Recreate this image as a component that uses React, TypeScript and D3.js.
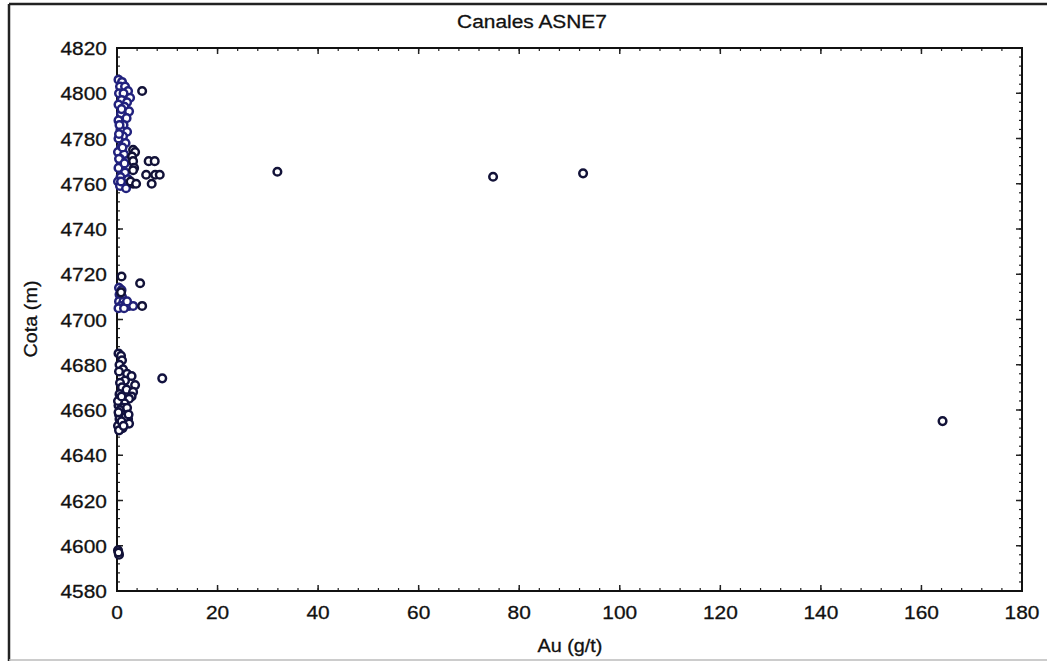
import React from "react";
import * as d3 from "d3";

const title = "Canales ASNE7";
const xLabel = "Au (g/t)";
const yLabel = "Cota (m)";
const xTicks = [0, 20, 40, 60, 80, 100, 120, 140, 160, 180];
const yTicks = [4580, 4600, 4620, 4640, 4660, 4680, 4700, 4720, 4740, 4760, 4780, 4800, 4820];

// dense upper cluster near the axis (Au, Cota)
const topDenseAu = [0.3, 1.0, 0.6, 1.6, 2.2, 0.4, 1.3, 2.6, 0.9, 2.0, 0.3, 1.5, 2.4, 0.8, 1.9, 0.3, 1.3, 0.7, 2.0, 1.2, 0.3, 1.7, 0.8, 0.2, 1.4, 0.6, 2.0, 1.0, 0.3, 1.6, 0.7, 2.2, 0.2, 1.2, 0.6, 1.8, 0.4, 1.1, 0.5, 0.9, 0.4, 1.5, 0.8];
const topDenseCota = [4806, 4805, 4803, 4803, 4801, 4800, 4800, 4798, 4797, 4796, 4795, 4794, 4792, 4791, 4789, 4788, 4786, 4784, 4783, 4781, 4780, 4778, 4776, 4774, 4773, 4771, 4770, 4768, 4767, 4765, 4763, 4762, 4761, 4760, 4759, 4758, 4771, 4776, 4786, 4793, 4782, 4769, 4761];

const topAu = [3.2, 3.6, 3.0, 3.2, 3.4, 6.3, 7.5, 3.2, 5.8, 7.6, 8.5, 6.9, 3.2, 2.7, 3.8, 5.0];
const topCota = [4775, 4774, 4772, 4770, 4767, 4770, 4770, 4766, 4764, 4764, 4764, 4760, 4760, 4761, 4760, 4801];

const midDenseAu = [0.4, 0.9, 0.5, 1.0, 0.4, 1.3, 0.8, 1.8, 2.4, 3.2, 0.3, 1.4, 2.0];
const midDenseCota = [4714, 4713, 4711, 4710, 4708, 4708, 4706, 4707, 4706, 4706, 4705, 4705, 4708];

const midAu = [0.9, 4.6, 5.0, 0.8];
const midCota = [4719, 4716, 4706, 4712];

const lowAu = [0.3, 0.8, 1.0, 0.5, 1.2, 0.4, 2.0, 2.9, 1.6, 0.6, 3.6, 1.0, 1.9, 3.2, 0.5, 2.9, 2.4, 0.8, 1.5, 0.3, 1.2, 0.6, 1.8, 0.4, 1.0, 2.2, 0.7, 1.6, 2.4, 0.2, 1.1, 0.5, 1.4, 0.2, 0.9, 2.0, 0.3, 1.7, 0.9, 2.3, 0.4, 1.3, 9.0];
const lowCota = [4685, 4684, 4682, 4680, 4678, 4677, 4676, 4675, 4673, 4672, 4671, 4670, 4669, 4668, 4667, 4666, 4665, 4664, 4663, 4662, 4661, 4660, 4659, 4658, 4657, 4656, 4655, 4654, 4654, 4653, 4652, 4656, 4658, 4664, 4666, 4661, 4659, 4657, 4655, 4658, 4651, 4653, 4674];

const bottomAu = [0.2, 0.4, 0.3];
const bottomCota = [4598, 4596, 4597];

const outlierAu = [31.9, 74.8, 92.7, 164.2];
const outlierCota = [4765.3, 4763.1, 4764.6, 4655.1];

const W = 1047;
const H = 662;
const left = 117;
const right = 1022;
const top = 48;
const bottom = 591;

const FONT = "'Liberation Sans', Arial, sans-serif";

export default function App() {
  const x = d3.scaleLinear().domain([0, 180]).range([left, right]);
  const y = d3.scaleLinear().domain([4580, 4820]).range([bottom, top]);

  const xMinor = d3.range(0, 180.001, 4);
  const yMinor = d3.range(4580, 4820.001, 4);

  const series = [
    { au: topDenseAu, cota: topDenseCota, color: "#22227e" },
    { au: midDenseAu, cota: midDenseCota, color: "#22227a" },
    { au: lowAu, cota: lowCota, color: "#12123f" },
    { au: topAu, cota: topCota, color: "#121238" },
    { au: midAu, cota: midCota, color: "#121238" },
    { au: bottomAu, cota: bottomCota, color: "#121238" },
    { au: outlierAu, cota: outlierCota, color: "#121238" },
  ];

  const textStyle = { fontFamily: FONT, fill: "#111" } as const;

  return (
    <svg width={W} height={H} style={{ position: "absolute", left: 0, top: 0, background: "#fff" }}>
      {/* outer frame */}
      <line x1={9} y1={4} x2={W} y2={4} stroke="#222" strokeWidth={2.5} />
      <line x1={9} y1={4} x2={9} y2={661} stroke="#222" strokeWidth={2.5} />
      <line x1={9} y1={660} x2={W} y2={660} stroke="#bbb" strokeWidth={1.5} />

      {/* title */}
      <text transform={`translate(532,28) scale(1.1,1)`} textAnchor="middle" fontSize={19} style={textStyle} stroke="#111" strokeWidth={0.3}>
        {title}
      </text>

      {/* minor ticks */}
      {xMinor.map((v) => (
        <g key={"xm" + v}>
          <line x1={x(v)} x2={x(v)} y1={bottom} y2={bottom - 3} stroke="#222" strokeWidth={1.2} />
          <line x1={x(v)} x2={x(v)} y1={top} y2={top + 3} stroke="#222" strokeWidth={1.2} />
        </g>
      ))}
      {yMinor.map((v) => (
        <g key={"ym" + v}>
          <line x1={left} x2={left + 3} y1={y(v)} y2={y(v)} stroke="#222" strokeWidth={1.2} />
          <line x1={right} x2={right - 3} y1={y(v)} y2={y(v)} stroke="#222" strokeWidth={1.2} />
        </g>
      ))}
      {/* major ticks */}
      {xTicks.map((v) => (
        <g key={"xt" + v}>
          <line x1={x(v)} x2={x(v)} y1={bottom} y2={bottom - 6} stroke="#222" strokeWidth={1.5} />
          <line x1={x(v)} x2={x(v)} y1={top} y2={top + 6} stroke="#222" strokeWidth={1.5} />
          <text transform={`translate(${x(v)},619) scale(1.1,1)`} textAnchor="middle" fontSize={19} style={textStyle} stroke="#111" strokeWidth={0.3}>
            {v}
          </text>
        </g>
      ))}
      {yTicks.map((v) => (
        <g key={"yt" + v}>
          <line x1={left} x2={left + 6} y1={y(v)} y2={y(v)} stroke="#222" strokeWidth={1.5} />
          <line x1={right} x2={right - 6} y1={y(v)} y2={y(v)} stroke="#222" strokeWidth={1.5} />
          <text transform={`translate(107,${y(v) + 7}) scale(1.1,1)`} textAnchor="end" fontSize={19} style={textStyle} stroke="#111" strokeWidth={0.3}>
            {v}
          </text>
        </g>
      ))}

      {/* plot frame */}
      <rect x={left} y={top} width={right - left} height={bottom - top} fill="none" stroke="#111" strokeWidth={2} />

      {/* axis labels */}
      <text transform={`translate(570,652) scale(1.1,1)`} textAnchor="middle" fontSize={18} style={textStyle} stroke="#111" strokeWidth={0.3}>
        {xLabel}
      </text>
      <text transform={`translate(37,319) rotate(-90) scale(1.1,1)`} textAnchor="middle" fontSize={18} style={textStyle} stroke="#111" strokeWidth={0.3}>
        {yLabel}
      </text>

      {/* points */}
      {series.map((s, si) => (
        <g key={"s" + si}>
          {s.au.map((a, i) => (
            <circle key={i} cx={x(a)} cy={y(s.cota[i])} r={3.8} fill="#fff" stroke={s.color} strokeWidth={2.5} />
          ))}
        </g>
      ))}
    </svg>
  );
}
